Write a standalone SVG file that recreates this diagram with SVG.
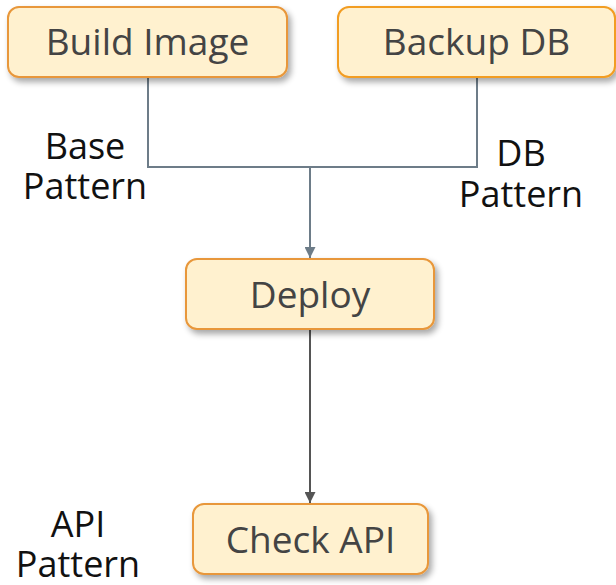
<svg xmlns="http://www.w3.org/2000/svg" width="616" height="585" viewBox="0 0 616 585">
  <style>
    .box { fill: #fff1cf; stroke: #e8973a; stroke-width: 2; }
    .box-alt { fill: #fff1cf; stroke: #f29d22; stroke-width: 2; }
    .node-text { font-family: "Open Sans", "Noto Sans", sans-serif; font-size: 37px; fill: #444444; text-anchor: middle; }
    .label { font-family: "Open Sans", "Noto Sans", sans-serif; font-size: 36px; fill: #111111; text-anchor: middle; }
    .wire { fill: none; stroke: #6d7c88; stroke-width: 2; }
    .wire-dark { fill: none; stroke: #555555; stroke-width: 2; }
  </style>
  <defs>
    <filter id="shadow" x="-10%" y="-20%" width="125%" height="150%">
      <feGaussianBlur in="SourceAlpha" stdDeviation="3"/>
      <feOffset dx="3" dy="4" result="b"/>
      <feComponentTransfer><feFuncA type="linear" slope="0.35"/></feComponentTransfer>
      <feMerge><feMergeNode/><feMergeNode in="SourceGraphic"/></feMerge>
    </filter>
    <marker id="arrow" viewBox="0 0 10 10" refX="10" refY="5" markerWidth="5.5" markerHeight="5.5" orient="auto" markerUnits="strokeWidth">
      <path d="M0,0 L10,5 L0,10 z" fill="#6d7c88"/>
    </marker>
    <marker id="arrow-dark" viewBox="0 0 10 10" refX="10" refY="5" markerWidth="5.5" markerHeight="5.5" orient="auto" markerUnits="strokeWidth">
      <path d="M0,0 L10,5 L0,10 z" fill="#555555"/>
    </marker>
  </defs>

  <g id="connectors">
    <polyline class="wire" points="148,77 148,167 477,167 477,77"/>
    <line class="wire" x1="310" y1="167" x2="310" y2="258" marker-end="url(#arrow)"/>
    <line class="wire-dark" x1="310" y1="329" x2="310" y2="503" marker-end="url(#arrow-dark)"/>
  </g>

  <g id="build-image">
    <rect class="box" x="8" y="7" width="279" height="70" rx="11" filter="url(#shadow)"/>
    <text class="node-text" x="147.5" y="55">Build Image</text>
  </g>

  <g id="backup-db">
    <rect class="box-alt" x="338" y="7" width="277" height="70" rx="11" filter="url(#shadow)"/>
    <text class="node-text" x="476.5" y="55">Backup DB</text>
  </g>

  <g id="deploy">
    <rect class="box" x="186" y="259" width="248" height="70" rx="11" filter="url(#shadow)"/>
    <text class="node-text" x="310" y="308">Deploy</text>
  </g>

  <g id="check-api">
    <rect class="box" x="193" y="504" width="235" height="70" rx="11" filter="url(#shadow)"/>
    <text class="node-text" x="310.5" y="553">Check API</text>
  </g>

  <g id="labels">
    <text class="label" x="85" y="159">Base</text>
    <text class="label" x="85" y="199">Pattern</text>
    <text class="label" x="521" y="166">DB</text>
    <text class="label" x="521" y="207">Pattern</text>
    <text class="label" x="78" y="537">API</text>
    <text class="label" x="78" y="577">Pattern</text>
  </g>
</svg>
